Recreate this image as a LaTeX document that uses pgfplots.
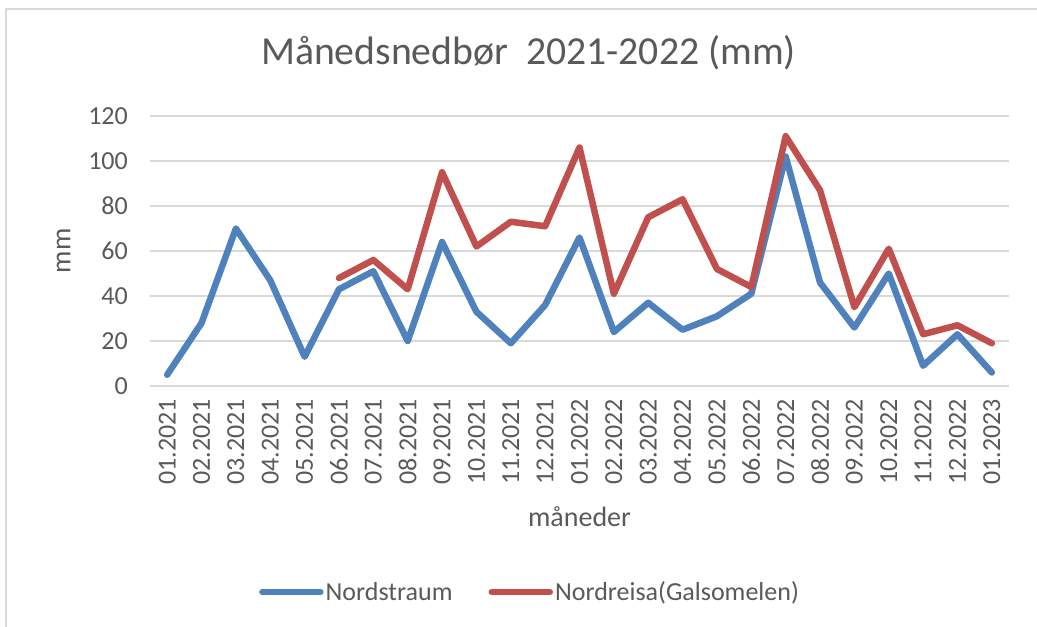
\documentclass[border=0pt]{standalone}
\usepackage{fontspec}
\setmainfont{Carlito}
\usepackage{pgfplots}
\pgfplotsset{compat=1.18}
\definecolor{txt}{HTML}{595959}
\definecolor{grd}{HTML}{D9D9D9}
\definecolor{sblue}{HTML}{4F81BD}
\definecolor{sred}{HTML}{C0504D}
\begin{document}
\begin{tikzpicture}
\useasboundingbox (0,0) rectangle (1037bp,627bp);
\draw[grd, line width=2bp] (6bp,-20bp) -- (6bp,618bp) -- (1060bp,618bp);
\begin{axis}[
  at={(150bp,241bp)}, anchor=south west, scale only axis,
  width=859bp, height=270bp,
  xmin=-0.5, xmax=24.5, ymin=0, ymax=120,
  xtick={0,...,24},
  xticklabels={01.2021,02.2021,03.2021,04.2021,05.2021,06.2021,07.2021,08.2021,09.2021,10.2021,11.2021,12.2021,01.2022,02.2022,03.2022,04.2022,05.2022,06.2022,07.2022,08.2022,09.2022,10.2022,11.2022,12.2022,01.2023},
  ytick={0,20,...,120},
  ymajorgrids, grid style={grd, line width=2bp},
  axis line style={draw=none}, major tick length=0pt,
  tick label style={font=\fontsize{26bp}{30bp}\selectfont, text=txt},
  /pgf/number format/assume math mode=true,
  yticklabel style={anchor=east, inner sep=0pt},
  yticklabel shift=22bp,
  xticklabel style={rotate=90, anchor=east, inner sep=0pt},
  xticklabel shift=13bp,
  xlabel={måneder}, ylabel={mm},
  label style={font=\fontsize{28bp}{32bp}\selectfont, text=txt},
  xlabel style={at={(axis description cs:0.5,-0.485)}, anchor=center},
  ylabel style={at={(axis description cs:-0.1007,0.5)}, anchor=center},
  title={Månedsnedbør\hspace{0.45em}2021-2022 (mm)},
  title style={at={(axis description cs:0.4406,1.212)}, anchor=center, font=\fontsize{39.7bp}{46bp}\selectfont, text=txt},
  legend style={at={(axis description cs:0.4424,-0.763)}, anchor=center, draw=none, fill=none,
    legend columns=-1, font=\fontsize{26bp}{30bp}\selectfont, text=txt,
    nodes={inner sep=2bp},
    /tikz/every even column/.append style={column sep=34bp}},
  legend image code/.code={\draw[#1, line cap=round] (0bp,0bp) -- (58bp,0bp);},
  every axis plot/.append style={line width=6.5bp, line join=round, line cap=round},
]
\addplot[sblue] coordinates {
(0,5) (1,28) (2,70) (3,47) (4,13) (5,43) (6,51) (7,20) (8,64) (9,33) (10,19) (11,36)
(12,66) (13,24) (14,37) (15,25) (16,31) (17,41) (18,102) (19,46) (20,26) (21,50) (22,9) (23,23) (24,6)};
\addlegendentry{Nordstraum}
\addplot[sred] coordinates {
(5,48) (6,56) (7,43) (8,95) (9,62) (10,73) (11,71)
(12,106) (13,41) (14,75) (15,83) (16,52) (17,44) (18,111) (19,87) (20,35) (21,61) (22,23) (23,27) (24,19)};
\addlegendentry{Nordreisa(Galsomelen)}
\end{axis}
\end{tikzpicture}
\end{document}
